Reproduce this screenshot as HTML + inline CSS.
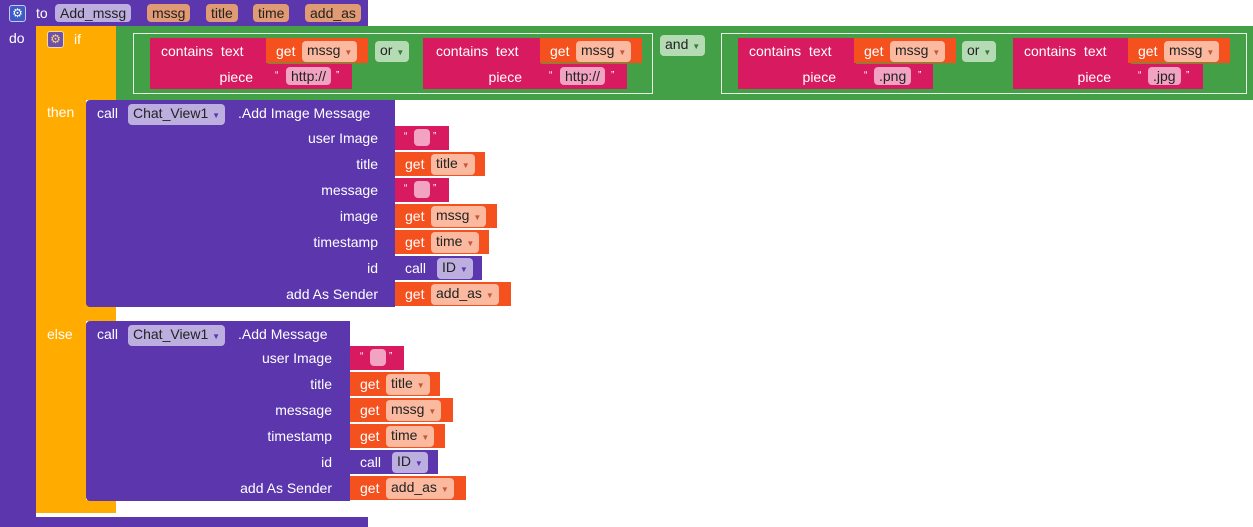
<!DOCTYPE html>
<html><head><meta charset="utf-8"><style>
body{margin:0;width:1253px;height:527px;background:#fff;position:relative;overflow:hidden;font-family:"Liberation Sans",sans-serif;font-size:14px;color:#fff}
div{position:absolute;box-sizing:border-box}
.p{background:#5b36ad}
.o{background:#ffab00}
.g{background:#43a047}
.m{background:#d81b60}
.r{background:#f4511e}
.t{white-space:nowrap;line-height:16px}
.pill{border-radius:4px;color:#222;line-height:18px;padding:0 5px;white-space:nowrap;margin-top:-1px}
.pp{background:#bdaee0}
.pb{background:#e09a74}
.pg{background:#b5dbb5}
.po{background:#fbb9a0}
.pm{background:#f1a3c1}
.ol{border:1px solid #e8f3e8}
.lab{text-align:right;width:300px}
.arr{font-size:8px;color:#c05a3a}
</style></head><body>
<div class="p" style="left:0;top:0;width:368px;height:26px"></div>
<div class="p" style="left:0;top:0;width:36px;height:527px"></div>
<div class="p" style="left:0;top:517px;width:368px;height:10px"></div>
<div style="left:9px;top:5px;width:17px;height:17px;background:#3e5cc8;border:1px solid #c9c9f0;border-radius:3px;font-size:12px;line-height:15px;text-align:center">⚙</div>
<div class="t" style="left:36px;top:5px">to</div>
<div class="pill pp" style="left:55px;top:5px">Add_mssg</div>
<div class="pill pb" style="left:147px;top:5px">mssg</div>
<div class="pill pb" style="left:206px;top:5px">title</div>
<div class="pill pb" style="left:253px;top:5px">time</div>
<div class="pill pb" style="left:305px;top:5px">add_as</div>
<div class="t" style="left:9px;top:30px">do</div>
<div class="o" style="left:36px;top:26px;width:82px;height:74px"></div>
<div class="o" style="left:36px;top:26px;width:50px;height:487px;border-radius:0 0 0 4px"></div>
<div class="o" style="left:36px;top:301px;width:80px;height:20px"></div>
<div class="o" style="left:36px;top:500px;width:80px;height:13px"></div>
<div style="left:47px;top:31px;width:17px;height:17px;background:#6b52b0;border:1px solid #f7d8a0;border-radius:3px;font-size:12px;line-height:15px;text-align:center;color:#ffd36b">⚙</div>
<div class="t" style="left:74px;top:31px">if</div>
<div class="t" style="left:47px;top:104px">then</div>
<div class="t" style="left:47px;top:326px">else</div>
<div class="g" style="left:116px;top:26px;width:1137px;height:74px"></div>
<div class="ol" style="left:133px;top:33px;width:520px;height:61px"></div>
<div class="ol" style="left:721px;top:33px;width:526px;height:61px"></div>
<div class="pill pg" style="left:660px;top:36px">and <span style="font-size:8px;color:#3a7a3a">▼</span></div>
<div class="pill pg" style="left:375px;top:42px">or <span style="font-size:8px;color:#3a7a3a">▼</span></div>
<div class="pill pg" style="left:962px;top:42px">or <span style="font-size:8px;color:#3a7a3a">▼</span></div>

<div class="m" style="left:150px;top:38px;width:118px;height:51px"></div>
<div class="t" style="left:161px;top:43px">contains &nbsp;text</div>
<div class="t lab" style="left:-47px;top:69px">piece</div>
<div class="r" style="left:266px;top:38px;width:102px;height:25px"></div>
<div class="t" style="left:276px;top:43px">get</div>
<div class="pill po" style="left:302px;top:42px">mssg <span class="arr">▼</span></div>
<div class="m" style="left:266px;top:64px;width:86px;height:25px"></div>
<div class="t" style="left:275px;top:68px;font-size:10px">“</div>
<div class="pill pm" style="left:286px;top:68px">http://</div>
<div class="t" style="left:336px;top:68px;font-size:10px">”</div>
<div class="m" style="left:423px;top:38px;width:118px;height:51px"></div>
<div class="t" style="left:436px;top:43px">contains &nbsp;text</div>
<div class="t lab" style="left:222px;top:69px">piece</div>
<div class="r" style="left:540px;top:38px;width:102px;height:25px"></div>
<div class="t" style="left:550px;top:43px">get</div>
<div class="pill po" style="left:576px;top:42px">mssg <span class="arr">▼</span></div>
<div class="m" style="left:540px;top:64px;width:87px;height:25px"></div>
<div class="t" style="left:549px;top:68px;font-size:10px">“</div>
<div class="pill pm" style="left:560px;top:68px">http://</div>
<div class="t" style="left:611px;top:68px;font-size:10px">”</div>
<div class="m" style="left:738px;top:38px;width:118px;height:51px"></div>
<div class="t" style="left:749px;top:43px">contains &nbsp;text</div>
<div class="t lab" style="left:536px;top:69px">piece</div>
<div class="r" style="left:854px;top:38px;width:102px;height:25px"></div>
<div class="t" style="left:864px;top:43px">get</div>
<div class="pill po" style="left:890px;top:42px">mssg <span class="arr">▼</span></div>
<div class="m" style="left:854px;top:64px;width:79px;height:25px"></div>
<div class="t" style="left:864px;top:68px;font-size:10px">“</div>
<div class="pill pm" style="left:874px;top:68px">.png</div>
<div class="t" style="left:918px;top:68px;font-size:10px">”</div>
<div class="m" style="left:1013px;top:38px;width:118px;height:51px"></div>
<div class="t" style="left:1024px;top:43px">contains &nbsp;text</div>
<div class="t lab" style="left:811px;top:69px">piece</div>
<div class="r" style="left:1128px;top:38px;width:102px;height:25px"></div>
<div class="t" style="left:1138px;top:43px">get</div>
<div class="pill po" style="left:1164px;top:42px">mssg <span class="arr">▼</span></div>
<div class="m" style="left:1128px;top:64px;width:75px;height:25px"></div>
<div class="t" style="left:1138px;top:68px;font-size:10px">“</div>
<div class="pill pm" style="left:1148px;top:68px">.jpg</div>
<div class="t" style="left:1186px;top:68px;font-size:10px">”</div>

<div class="p" style="left:86px;top:100px;width:309px;height:207px;border-radius:4px 0 0 4px"></div>
<div class="t" style="left:97px;top:105px">call</div>
<div class="pill pp" style="left:128px;top:105px">Chat_View1 <span style="font-size:8px;color:#5b36ad">▼</span></div>
<div class="t" style="left:238px;top:105px">.Add Image Message</div>
<div class="t lab" style="left:78px;top:130px">user Image</div>
<div class="t lab" style="left:78px;top:156px">title</div>
<div class="t lab" style="left:78px;top:182px">message</div>
<div class="t lab" style="left:78px;top:208px">image</div>
<div class="t lab" style="left:78px;top:234px">timestamp</div>
<div class="t lab" style="left:78px;top:260px">id</div>
<div class="t lab" style="left:78px;top:286px">add As Sender</div>
<div class="m" style="left:395px;top:126px;width:54px;height:24px"></div>
<div class="t" style="left:404px;top:129px;font-size:10px">“</div><div class="pill pm" style="left:414px;top:130px;width:16px;height:17px"></div><div class="t" style="left:433px;top:129px;font-size:10px">”</div>
<div class="r" style="left:395px;top:152px;width:90px;height:24px"></div>
<div class="t" style="left:405px;top:156px">get</div><div class="pill po" style="left:431px;top:155px">title <span class="arr">▼</span></div>
<div class="m" style="left:395px;top:178px;width:54px;height:24px"></div>
<div class="t" style="left:404px;top:181px;font-size:10px">“</div><div class="pill pm" style="left:414px;top:182px;width:16px;height:17px"></div><div class="t" style="left:433px;top:181px;font-size:10px">”</div>
<div class="r" style="left:395px;top:204px;width:102px;height:24px"></div>
<div class="t" style="left:405px;top:208px">get</div><div class="pill po" style="left:431px;top:207px">mssg <span class="arr">▼</span></div>
<div class="r" style="left:395px;top:230px;width:94px;height:24px"></div>
<div class="t" style="left:405px;top:234px">get</div><div class="pill po" style="left:431px;top:233px">time <span class="arr">▼</span></div>
<div class="p" style="left:395px;top:256px;width:87px;height:24px"></div>
<div class="t" style="left:405px;top:260px">call</div><div class="pill pp" style="left:437px;top:259px">ID <span style="font-size:8px;color:#5b36ad">▼</span></div>
<div class="r" style="left:395px;top:282px;width:116px;height:24px"></div>
<div class="t" style="left:405px;top:286px">get</div><div class="pill po" style="left:431px;top:285px">add_as <span class="arr">▼</span></div>

<div class="p" style="left:86px;top:321px;width:264px;height:180px;border-radius:4px 0 0 4px"></div>
<div class="t" style="left:97px;top:326px">call</div>
<div class="pill pp" style="left:128px;top:326px">Chat_View1 <span style="font-size:8px;color:#5b36ad">▼</span></div>
<div class="t" style="left:238px;top:326px">.Add Message</div>
<div class="t lab" style="left:32px;top:350px">user Image</div>
<div class="t lab" style="left:32px;top:376px">title</div>
<div class="t lab" style="left:32px;top:402px">message</div>
<div class="t lab" style="left:32px;top:428px">timestamp</div>
<div class="t lab" style="left:32px;top:454px">id</div>
<div class="t lab" style="left:32px;top:480px">add As Sender</div>
<div class="m" style="left:350px;top:346px;width:54px;height:24px"></div>
<div class="t" style="left:360px;top:349px;font-size:10px">“</div><div class="pill pm" style="left:370px;top:350px;width:16px;height:17px"></div><div class="t" style="left:389px;top:349px;font-size:10px">”</div>
<div class="r" style="left:350px;top:372px;width:90px;height:24px"></div>
<div class="t" style="left:360px;top:376px">get</div><div class="pill po" style="left:386px;top:375px">title <span class="arr">▼</span></div>
<div class="r" style="left:350px;top:398px;width:103px;height:24px"></div>
<div class="t" style="left:360px;top:402px">get</div><div class="pill po" style="left:386px;top:401px">mssg <span class="arr">▼</span></div>
<div class="r" style="left:350px;top:424px;width:95px;height:24px"></div>
<div class="t" style="left:360px;top:428px">get</div><div class="pill po" style="left:386px;top:427px">time <span class="arr">▼</span></div>
<div class="p" style="left:350px;top:450px;width:88px;height:24px"></div>
<div class="t" style="left:360px;top:454px">call</div><div class="pill pp" style="left:392px;top:453px">ID <span style="font-size:8px;color:#5b36ad">▼</span></div>
<div class="r" style="left:350px;top:476px;width:116px;height:24px"></div>
<div class="t" style="left:360px;top:480px">get</div><div class="pill po" style="left:386px;top:479px">add_as <span class="arr">▼</span></div>
</body></html>
